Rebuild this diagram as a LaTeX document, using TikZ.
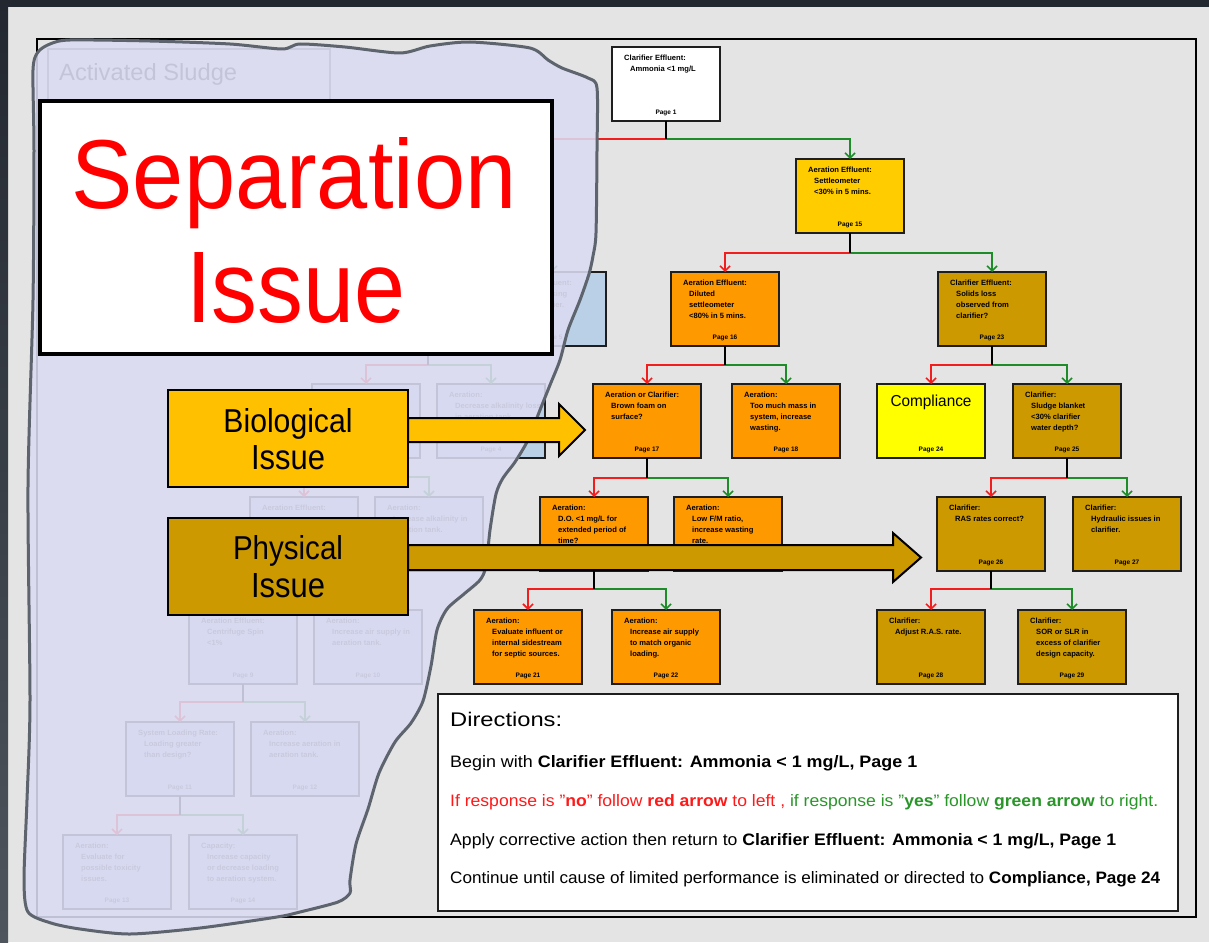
\documentclass[tikz,border=0pt]{standalone}
\usepackage{fontspec}
\setmainfont{Liberation Sans}
\usepackage{graphicx}
\usetikzlibrary{arrows.meta}

\definecolor{pagegray}{HTML}{E4E4E4}
\definecolor{bandtop}{HTML}{232830}
\definecolor{bandbot}{HTML}{4E555D}
\definecolor{boxline}{HTML}{1E1E1E}
\definecolor{ambercol}{HTML}{FFCC00}
\definecolor{orangecol}{HTML}{FF9900}
\definecolor{goldcol}{HTML}{CC9900}
\definecolor{lemoncol}{HTML}{FFFF00}
\definecolor{biofill}{HTML}{FFC000}
\definecolor{paleblue}{HTML}{B9D0E6}
\definecolor{linkred}{HTML}{F21D1D}
\definecolor{linkgreen}{HTML}{1E8C28}
\definecolor{blobfill}{RGB}{219,219,242}
\definecolor{blobline}{HTML}{5D646E}
\definecolor{sepred}{HTML}{FF0000}
\definecolor{dirred}{HTML}{FF1A1A}
\definecolor{dirgreen}{HTML}{2A962A}

\tikzset{
  fbox/.style={draw=boxline, line width=1.8pt, minimum width=108pt, minimum height=74pt,
    inner sep=0pt, outer sep=0pt, anchor=north west},
  ltxt/.style={font=\fontsize{7.6}{9}\selectfont\bfseries, inner sep=0pt, anchor=base west},
  ptxt/.style={font=\fontsize{6.5}{8}\selectfont\bfseries, inner sep=0pt, anchor=base},
  stub/.style={draw=black, line width=2pt},
  nolink/.style={draw=linkred, line width=1.6pt, -{Straight Barb[length=5pt,width=10pt]}},
  yeslink/.style={draw=linkgreen, line width=1.6pt, -{Straight Barb[length=5pt,width=10pt]}},
  dtxt/.style={font=\fontsize{16}{18}\selectfont, inner sep=0pt, anchor=base west},
  bigtxt/.style={font=\fontsize{34}{36}\selectfont, inner sep=0pt, anchor=base},
  issuebox/.style={draw=black, line width=2pt, inner sep=0pt, outer sep=0pt, anchor=north west,
    minimum width=240pt, minimum height=97pt},
  bigarrow/.style={draw=black, line width=2pt, line join=miter},
}

% box with a heading line, indented body lines and a page label
\newcommand\flowbox[7]{%
  \node[fbox, fill=#4] (#1) at (#2,#3) {};
  \node[ltxt] at ([xshift=12pt,yshift=-13pt]#1.north west) {#5};
  \foreach \bxline [count=\bxi] in {#6} {
    \node[ltxt] at ([xshift=18pt,yshift={-13pt-11pt*\bxi}]#1.north west) {\bxline};
  }
  \node[ptxt] at ([yshift=7pt]#1.south) {Page #7};
}
% box whose contents sit under the call-out boxes
\newcommand\coveredbox[4]{%
  \node[fbox, fill=#4] (#1) at (#2,#3) {};
}

% no/yes split below a decision box
\newcommand\flowfork[4]{%
  \path (#1.south) -- ++(0,#4) coordinate (#1-j);
  \draw[nolink] (#1-j) -| (#2.north);
  \draw[yeslink] (#1-j) -| (#3.north);
  \draw[stub] (#1.south) -- (#1-j);
}

\begin{document}
\begin{tikzpicture}[x=1pt,y=-1pt]
\useasboundingbox (0,0) rectangle (1209,942);

% window background
\fill[pagegray] (0,0) rectangle (1209,942);
\fill[bandtop] (0,0) rectangle (1209,7);
\shade[top color=bandtop, bottom color=bandbot] (0,0) rectangle (8,942);

% page frame
\draw[line width=2.5pt, black] (37,39) rectangle (1196,917);

% ---------- left branch (activated sludge) ----------
\draw[draw=black!60, line width=1.2pt] (48,49) rectangle (330,112);
\node[anchor=base west, inner sep=0pt, text=black!85] (hdr) at (59,80) {\resizebox{178pt}{17pt}{Activated Sludge}};

\begin{scope}[fbox/.append style={line width=1.4pt}, ltxt/.append style={text=black!70}, ptxt/.append style={text=black!70}]
\coveredbox{L2}{436}{159}{paleblue}
\coveredbox{L3a}{374}{272}{paleblue}
\flowbox{L3b}{498}{272}{paleblue}{Clarifier Effluent:}{Solids leaking,from clarifier.}{5}
\coveredbox{L4a}{312}{384}{paleblue}
\flowbox{L4b}{437}{384}{paleblue}{Aeration:}{Decrease alkalinity loss,in aeration tank.}{4}
\coveredbox{L5a}{250}{497}{paleblue}
\node[ltxt] at ([xshift=12pt,yshift=-13pt]L5a.north west) {Aeration Effluent:};
\flowbox{L5b}{375}{497}{paleblue}{Aeration:}{Increase alkalinity in,aeration tank.}{8}
\flowbox{L6a}{189}{610}{paleblue}{Aeration Effluent:}{Centrifuge Spin,<1\%}{9}
\flowbox{L6b}{314}{610}{paleblue}{Aeration:}{Increase air supply in,aeration tank.}{10}
\flowbox{L7a}{126}{722}{paleblue}{System Loading Rate:}{Loading greater,than design?}{11}
\flowbox{L7b}{251}{722}{paleblue}{Aeration:}{Increase aeration in,aeration tank.}{12}
\flowbox{L8a}{63}{835}{paleblue}{Aeration:}{Evaluate for,possible toxicity,issues.}{13}
\flowbox{L8b}{189}{835}{paleblue}{Capacity:}{Increase capacity,or decrease loading,to aeration system.}{14}
\end{scope}

\flowfork{L2}{L3a}{L3b}{19}
\flowfork{L3a}{L4a}{L4b}{19}
\flowfork{L4a}{L5a}{L5b}{19}
\flowfork{L5a}{L6a}{L6b}{19}
\flowfork{L6a}{L7a}{L7b}{18}
\flowfork{L7a}{L8a}{L8b}{19}

% ---------- right branch ----------
\flowbox{n1}{612}{47}{white}{Clarifier Effluent:}{Ammonia <1 mg/L}{1}
\flowbox{n2}{796}{159}{ambercol}{Aeration Effluent:}{Settleometer,<30\% in 5 mins.}{15}
\flowbox{n3}{671}{272}{orangecol}{Aeration Effluent:}{Diluted,settleometer,<80\% in 5 mins.}{16}
\flowbox{n4}{938}{272}{goldcol}{Clarifier Effluent:}{Solids loss,observed from,clarifier?}{23}
\flowbox{n5}{593}{384}{orangecol}{Aeration or Clarifier:}{Brown foam on,surface?}{17}
\flowbox{n6}{732}{384}{orangecol}{Aeration:}{Too much mass in,{system, increase},wasting.}{18}
\node[fbox, fill=lemoncol] (n7) at (877,384) {};
\node[anchor=base, inner sep=0pt] (n7t) at (931,406) {\resizebox{81pt}{11.5pt}{Compliance}};
\node[ptxt] at ([yshift=7pt]n7.south) {Page 24};
\flowbox{n8}{1013}{384}{goldcol}{Clarifier:}{Sludge blanket,<30\% clarifier,water depth?}{25}
\flowbox{n9}{540}{497}{orangecol}{Aeration:}{D.O. <1 mg/L for,extended period of,time?}{19}
\flowbox{n10}{674}{497}{orangecol}{Aeration:}{{Low F/M ratio,},increase wasting,rate.}{20}
\flowbox{n11}{937}{497}{goldcol}{Clarifier:}{RAS rates correct?}{26}
\flowbox{n12}{1073}{497}{goldcol}{Clarifier:}{Hydraulic issues in,clarifier.}{27}
\flowbox{n13}{474}{610}{orangecol}{Aeration:}{Evaluate influent or,internal sidestream,for septic sources.}{21}
\flowbox{n14}{612}{610}{orangecol}{Aeration:}{Increase air supply,to match organic,loading.}{22}
\flowbox{n15}{877}{610}{goldcol}{Clarifier:}{Adjust R.A.S. rate.}{28}
\flowbox{n16}{1018}{610}{goldcol}{Clarifier:}{SOR or SLR in,excess of clarifier,design capacity.}{29}

\flowfork{n1}{L2}{n2}{18}
\flowfork{n2}{n3}{n4}{20}
\flowfork{n3}{n5}{n6}{19}
\flowfork{n4}{n7}{n8}{19}
\flowfork{n5}{n9}{n10}{20}
\flowfork{n8}{n11}{n12}{20}
\flowfork{n9}{n13}{n14}{18}
\flowfork{n11}{n15}{n16}{18}

% ---------- directions ----------
\node[draw=boxline, line width=1.5pt, fill=white, anchor=north west, inner sep=0pt,
      minimum width=740pt, minimum height=217pt] (dir) at (437,693) {};
\node[dtxt, font=\fontsize{20}{22}\selectfont] (d0) at (450,726) {\resizebox{112pt}{14.3pt}{Directions:}};
\node[dtxt] (d1) at (450,767) {\resizebox{467pt}{12pt}{Begin with \textbf{Clarifier Effluent: Ammonia < 1 mg/L, Page 1}}};
\node[dtxt] (d2) at (450,806) {\resizebox{708pt}{12pt}{\color{dirred}If response is "\textbf{no}" follow \textbf{red arrow} to left , \color{dirgreen}if response is "\textbf{yes}" follow \textbf{green arrow} to right.}};
\node[dtxt] (d3) at (450,845) {\resizebox{666pt}{12pt}{Apply corrective action then return to \textbf{Clarifier Effluent: Ammonia < 1 mg/L, Page 1}}};
\node[dtxt] (d4) at (450,883) {\resizebox{710pt}{12pt}{Continue until cause of limited performance is eliminated or directed to \textbf{Compliance, Page 24}}};

% ---------- hand-drawn overlay ----------
\draw[draw=blobline, line width=3pt, fill=blobfill, fill opacity=0.88, line join=round]
  plot[smooth cycle, tension=0.45] coordinates {
    (33,70) (38,52) (50,44) (70,40) (150,41) (230,44) (282,49) (300,44) (345,47)
    (400,53) (430,46) (470,42) (530,48) (548,60) (562,68) (588,78) (597,88)
    (597,150) (596,233) (593,256) (589,274) (580,300) (568,330) (560,360)
    (550,385) (540,410) (528,440) (515,462) (503,478) (496,494) (490,530)
    (486,566) (480,580) (464,594) (447,609) (437,630) (431,666) (423,701)
    (411,723) (395,742) (379,773) (368,809) (356,844) (350,880) (350,893)
    (338,902) (300,912) (277,917) (200,928) (130,934) (80,929) (51,923)
    (28,912) (24,880) (27,800) (30,701) (28,487) (33,300) (34,150)};

% ---------- call-out boxes ----------
\node[draw=black, line width=4pt, fill=white, anchor=north west, inner sep=0pt, outer sep=0pt,
      minimum width=512pt, minimum height=253pt] (sep) at (40,101) {};
\node[anchor=base, inner sep=0pt, text=sepred, font=\fontsize{100}{100}\selectfont] (sept1) at (294,208) {\resizebox{445pt}{71pt}{Separation}};
\node[anchor=base, inner sep=0pt, text=sepred, font=\fontsize{100}{100}\selectfont] (sept2) at (296,322) {\resizebox{219pt}{70pt}{Issue}};

\draw[bigarrow, fill=biofill] (408,418) -- (559,418) -- (559,404) -- (585,430) -- (559,456) -- (559,442) -- (408,442) -- cycle;
\node[issuebox, fill=biofill] (bio) at (168,390) {};
\node[bigtxt] (biot1) at (288,432) {\resizebox{129pt}{24pt}{Biological}};
\node[bigtxt] (biot2) at (288,469) {\resizebox{74pt}{24pt}{Issue}};

\draw[bigarrow, fill=goldcol] (408,545) -- (893,545) -- (893,533) -- (921,557.5) -- (893,582) -- (893,570) -- (408,570) -- cycle;
\node[issuebox, fill=goldcol] (phys) at (168,518) {};
\node[bigtxt] (phyt1) at (288,559) {\resizebox{110pt}{24pt}{Physical}};
\node[bigtxt] (phyt2) at (288,597) {\resizebox{74pt}{24pt}{Issue}};
\end{tikzpicture}
\end{document}
